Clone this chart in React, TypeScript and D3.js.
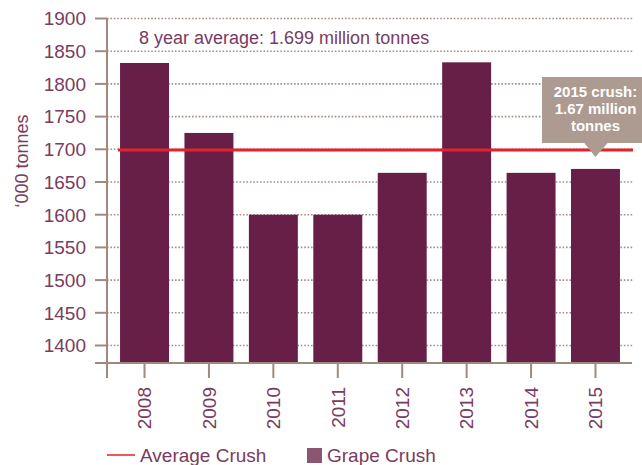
import { useRef, useEffect } from 'react';
import * as d3 from 'd3';

// grape crush, '000 tonnes
const years = ['2008', '2009', '2010', '2011', '2012', '2013', '2014', '2015'];
const crush = [1832, 1725, 1600, 1600, 1664, 1833, 1664, 1670];
const average = 1699;
const yTicks = [1400, 1450, 1500, 1550, 1600, 1650, 1700, 1750, 1800, 1850, 1900];
const calloutLines = ['2015 crush:', '1.67 million', 'tonnes'];

const W = 642, H = 465;
const txt = '#7a3b60';
const axisCol = '#9e8a7e';
const barCol = '#681f47';
const font = '"Liberation Sans", Arial, sans-serif';

const App = () => {
  const ref = useRef<SVGSVGElement>(null);

  useEffect(() => {
    const svg = d3.select(ref.current);
    svg.selectAll('*').remove();

    const left = 107, right = 632, bottom = 363;

    const x = d3.scaleBand<string>()
      .domain(years)
      .range([112.3, 627.7])
      .paddingInner(0.24)
      .paddingOuter(0.12);

    const y = d3.scaleLinear().domain([1400, 1900]).range([345.5, 18.5]);
    const yBase = y.invert(bottom);

    // dotted gridlines
    svg.append('g').selectAll('line')
      .data(yTicks)
      .join('line')
      .attr('x1', left).attr('x2', right + 1)
      .attr('y1', d => y(d)).attr('y2', d => y(d))
      .attr('stroke', '#a39087')
      .attr('stroke-width', 1.6)
      .attr('stroke-dasharray', '1.6,1.8');

    // bars
    svg.append('g').selectAll('rect')
      .data(crush)
      .join('rect')
      .attr('x', (_, i) => x(years[i])!)
      .attr('width', x.bandwidth())
      .attr('y', d => y(d))
      .attr('height', d => y(yBase) - y(d))
      .attr('fill', barCol);

    // average line
    svg.append('line')
      .attr('x1', 118).attr('x2', right + 1)
      .attr('y1', y(average)).attr('y2', y(average))
      .attr('stroke', '#e4222b')
      .attr('stroke-width', 3);

    // y axis
    const ya = svg.append('g');
    ya.append('line')
      .attr('x1', left).attr('x2', left)
      .attr('y1', y(1900)).attr('y2', bottom + 15)
      .attr('stroke', axisCol).attr('stroke-width', 2);
    ya.selectAll('line.tk')
      .data(yTicks)
      .join('line')
      .attr('class', 'tk')
      .attr('x1', left - 12).attr('x2', left)
      .attr('y1', d => y(d)).attr('y2', d => y(d))
      .attr('stroke', axisCol).attr('stroke-width', 2);
    ya.selectAll('text')
      .data(yTicks)
      .join('text')
      .attr('x', 86)
      .attr('y', d => y(d))
      .attr('dy', '0.36em')
      .attr('text-anchor', 'end')
      .attr('font-family', font)
      .attr('font-size', 19)
      .attr('fill', txt)
      .text(d => d);

    // x axis
    const xa = svg.append('g');
    xa.append('line')
      .attr('x1', left - 12).attr('x2', right)
      .attr('y1', bottom).attr('y2', bottom)
      .attr('stroke', axisCol).attr('stroke-width', 2);
    xa.selectAll('line.tk')
      .data(years)
      .join('line')
      .attr('class', 'tk')
      .attr('x1', d => x(d)! + x.bandwidth() / 2)
      .attr('x2', d => x(d)! + x.bandwidth() / 2)
      .attr('y1', bottom).attr('y2', bottom + 15)
      .attr('stroke', axisCol).attr('stroke-width', 2);
    xa.selectAll('text')
      .data(years)
      .join('text')
      .attr('transform', d => `translate(${x(d)! + x.bandwidth() / 2},387) rotate(-90)`)
      .attr('dy', '0.36em')
      .attr('text-anchor', 'end')
      .attr('font-family', font)
      .attr('font-size', 19)
      .attr('fill', txt)
      .text(d => d);

    // y axis title
    svg.append('text')
      .attr('transform', 'translate(22,161) rotate(-90)')
      .attr('dy', '0.36em')
      .attr('text-anchor', 'middle')
      .attr('font-family', font)
      .attr('font-size', 18)
      .attr('fill', txt)
      .text('\u2018000 tonnes');

    // average annotation
    svg.append('text')
      .attr('x', 139).attr('y', 44)
      .attr('font-family', font)
      .attr('font-size', 18)
      .attr('fill', txt)
      .text('8 year average: 1.699 million tonnes');

    // callout
    const c = svg.append('g');
    const cx = x('2015')! + x.bandwidth() / 2;
    c.append('rect')
      .attr('x', 542).attr('y', 77)
      .attr('width', 110).attr('height', 66)
      .attr('fill', '#ad9a91');
    c.append('path')
      .attr('d', `M${cx - 12},142 L${cx + 13},142 L${cx},157 Z`)
      .attr('fill', '#ad9a91');
    c.selectAll('text')
      .data(calloutLines)
      .join('text')
      .attr('x', cx)
      .attr('y', (_, i) => 97 + i * 17)
      .attr('text-anchor', 'middle')
      .attr('font-family', font)
      .attr('font-weight', 'bold')
      .attr('font-size', 15)
      .attr('fill', '#ffffff')
      .text(d => d);

    // legend
    const lg = svg.append('g');
    lg.append('line')
      .attr('x1', 107).attr('x2', 135)
      .attr('y1', 455).attr('y2', 455)
      .attr('stroke', '#e4222b').attr('stroke-width', 1.5);
    lg.append('text')
      .attr('x', 140).attr('y', 462)
      .attr('font-family', font).attr('font-size', 19)
      .attr('fill', txt)
      .text('Average Crush');
    lg.append('rect')
      .attr('x', 307).attr('y', 448)
      .attr('width', 15).attr('height', 15)
      .attr('fill', '#8b5670');
    lg.append('text')
      .attr('x', 327).attr('y', 462)
      .attr('font-family', font).attr('font-size', 19)
      .attr('fill', txt)
      .text('Grape Crush');
  }, []);

  return (
    <svg
      ref={ref}
      width={W}
      height={H}
      style={{ position: 'absolute', left: 0, top: 0, background: '#fff' }}
    />
  );
};

export default App;
